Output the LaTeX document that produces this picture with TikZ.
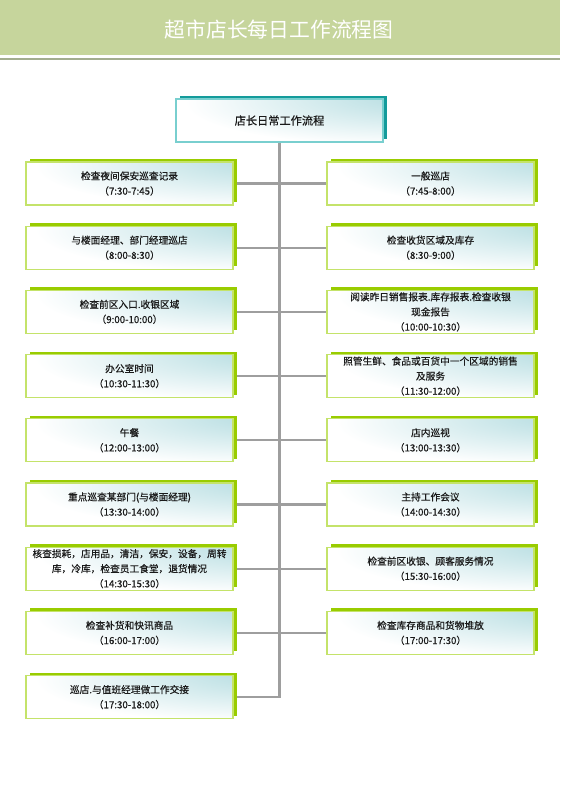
\documentclass[tikz,border=0pt]{standalone}
\usepackage{fontspec}
\setmainfont{Noto Sans CJK SC}
\newfontfamily\boxfont{Noto Sans CJK SC}[FakeBold=0.5]
\usetikzlibrary{shadows,backgrounds}
\definecolor{headgreen}{HTML}{C6D59C}
\definecolor{headline}{HTML}{A3AD8F}
\definecolor{boxteal}{HTML}{B8DEE2}
\definecolor{limeedge}{HTML}{C4E36A}
\definecolor{limeshadow}{HTML}{99CC00}
\definecolor{tealedge}{HTML}{79CFCF}
\definecolor{tealshadow}{HTML}{139B9B}
\definecolor{conngrey}{HTML}{9E9E9E}
\definecolor{txt}{HTML}{1A1A1A}
\pgfdeclareradialshading{boxshade}{\pgfpoint{40bp}{32bp}}{color(0bp)=(boxteal); color(8bp)=(boxteal); color(48bp)=(white); color(130bp)=(white)}
\tikzset{
  basebox/.style={shade, shading=boxshade, line width=1.1pt, minimum width=207pt,
    minimum height=43pt, inner sep=0pt, align=center, text=txt},
  lbox/.style={basebox, draw=limeedge, font=\boxfont\fontsize{9.7}{15}\selectfont,
    general shadow={fill=limeshadow, shadow xshift=4pt, shadow yshift=3pt}},
  topbox/.style={basebox, draw=tealedge, font=\boxfont\fontsize{11.2}{14}\selectfont,
    general shadow={fill=tealshadow, shadow xshift=3.5pt, shadow yshift=3pt}},
  conn/.style={draw=conngrey, line width=2.3pt}
}
\begin{document}
\begin{tikzpicture}[x=1pt,y=-1pt]
\useasboundingbox (0,0) rectangle (560,792);
% header
\fill[headgreen] (0,0) rectangle (560,55);
\fill[headline] (0,57.8) rectangle (560,60.4);
\node[text=white, font=\fontsize{20.8}{24}\selectfont] (title) at (279,30) {超市店长每日工作流程图};
% top box
\node[topbox] (T) at (279.5,120.5) {店长日常工作流程};
% left column
\node[lbox] (L1) at (129.5,183.5) {检查夜间保安巡查记录\\（7:30-7:45）};
\node[lbox] (L2) at (129.5,247.7) {与楼面经理、部门经理巡店\\（8:00-8:30）};
\node[lbox] (L3) at (129.5,311.9) {检查前区入口.收银区域\\（9:00-10:00）};
\node[lbox] (L4) at (129.5,376.1) {办公室时间\\（10:30-11:30）};
\node[lbox] (L5) at (129.5,440.3) {午餐\\（12:00-13:00）};
\node[lbox] (L6) at (129.5,504.5) {重点巡查某部门(与楼面经理)\\（13:30-14:00）};
\node[lbox] (L7) at (129.5,568.7) {核查损耗，店用品，清洁，保安，设备，周转\\库，冷库，检查员工食堂，退货情况\\（14:30-15:30）};
\node[lbox] (L8) at (129.5,632.9) {检查补货和快讯商品\\（16:00-17:00）};
\node[lbox] (L9) at (129.5,697.1) {巡店.与值班经理做工作交接\\（17:30-18:00）};
% right column
\node[lbox] (R1) at (430.5,183.5) {一般巡店\\（7:45-8:00）};
\node[lbox] (R2) at (430.5,247.7) {检查收货区域及库存\\（8:30-9:00）};
\node[lbox] (R3) at (430.5,311.9) {阅读昨日销售报表.库存报表.检查收银\\现金报告\\（10:00-10:30）};
\node[lbox] (R4) at (430.5,376.1) {照管生鲜、食品或百货中一个区域的销售\\及服务\\（11:30-12:00）};
\node[lbox] (R5) at (430.5,440.3) {店内巡视\\（13:00-13:30）};
\node[lbox] (R6) at (430.5,504.5) {主持工作会议\\（14:00-14:30）};
\node[lbox] (R7) at (430.5,568.7) {检查前区收银、顾客服务情况\\（15:30-16:00）};
\node[lbox] (R8) at (430.5,632.9) {检查库存商品和货物堆放\\（17:00-17:30）};
% connectors
\begin{scope}[on background layer]
\fill[white] (0,61) rectangle (560,792);
\draw[conn] (T.south) |- (L9.east);
\foreach \i in {1,...,8}{\draw[conn] (L\i.east) -- (R\i.west);}
\end{scope}
\end{tikzpicture}
\end{document}
